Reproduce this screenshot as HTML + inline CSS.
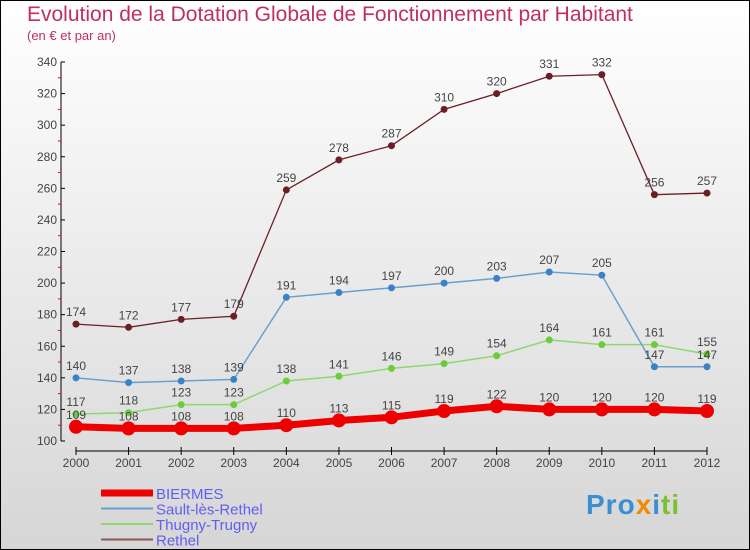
<!DOCTYPE html>
<html><head><meta charset="utf-8"><style>
body{margin:0}
#c{position:relative;width:748px;height:548px;border:1px solid #000;background:linear-gradient(#fff,#d6d6d6);font-family:"Liberation Sans",sans-serif;overflow:hidden}
.t{position:absolute;left:26px;top:2px;font-size:21px;color:#c0305a}
.s{position:absolute;left:26px;top:27px;font-size:13px;color:#c0305a}
</style></head><body>
<div id="c">
<div class="t">Evolution de la Dotation Globale de Fonctionnement par Habitant</div>
<div class="s">(en € et par an)</div>
<svg id="svg" width="748" height="548" style="position:absolute;left:0;top:0"></svg>
<div style="position:absolute;left:585px;top:488px;font-size:28px;font-weight:bold;letter-spacing:1px"><span style="color:#3a8fd0">Pro</span><span style="color:#f08a00">x</span><span style="color:#3a8fd0">i</span><span style="color:#7cc030">ti</span></div>
</div>
<script>
const years=["2000","2001","2002","2003","2004","2005","2006","2007","2008","2009","2010","2011","2012"];
const biermes=[109,108,108,108,110,113,115,119,122,120,120,120,119];
const sault=[140,137,138,139,191,194,197,200,203,207,205,147,147];
const thugny=[117,118,123,123,138,141,146,149,154,164,161,161,155];
const rethel=[174,172,177,179,259,278,287,310,320,331,332,256,257];
const yTicks=[100,120,140,160,180,200,220,240,260,280,300,320,340];
const series=[
 {name:"Rethel",data:rethel,color:"#6b1f25",w:1.3,r:3.5,fill:"#6b1f25"},
 {name:"Thugny-Trugny",data:thugny,color:"#8fd870",w:1.5,r:3.5,fill:"#6ccc3c"},
 {name:"Sault-lès-Rethel",data:sault,color:"#6aa0d0",w:1.5,r:3.5,fill:"#3a82c8"},
 {name:"BIERMES",data:biermes,color:"#ee0000",w:7,r:7,fill:"#ee0000"}];
const NS="http://www.w3.org/2000/svg",svg=document.getElementById('svg');
const x=i=>75+i*(631/12), y=v=>440-(v-100)*(379/240);
function el(t,a,p){const e=document.createElementNS(NS,t);for(const k in a)e.setAttribute(k,a[k]);(p||svg).appendChild(e);return e;}
let e=el('line',{x1:60,y1:61,x2:60,y2:440,stroke:'#000'});

e=el('line',{x1:75,y1:450,x2:706,y2:450,stroke:'#000'});

yTicks.forEach((v,i)=>{el('line',{x1:60,y1:y(v),x2:64,y2:y(v),stroke:'#000'});
 if(i<yTicks.length-1)el('line',{x1:57,y1:y(v+10),x2:60,y2:y(v+10),stroke:'#f00'});
 const t=el('text',{x:56,y:y(v)+4,'text-anchor':'end','font-size':12,fill:'#444'});t.textContent=v;
 });
years.forEach((yr,i)=>{el('line',{x1:x(i),y1:446,x2:x(i),y2:454,stroke:'#000'});
 const t=el('text',{x:x(i),y:466,'text-anchor':'middle','font-size':12,fill:'#444'});t.textContent=yr;
 });
series.forEach(s=>{const g=el('g',{});
 
 el('polyline',{points:s.data.map((v,i)=>x(i)+','+y(v)).join(' '),fill:'none',stroke:s.color,'stroke-width':s.w},g);
 s.data.forEach((v,i)=>{const c=el('circle',{cx:x(i),cy:y(v),r:s.r,fill:s.fill},g);
  
  const t=el('text',{x:x(i),y:y(v)-8,'text-anchor':'middle','font-size':12,fill:'#444'},g);t.textContent=v;
  });});
const leg=[["BIERMES","#ee0000",7],["Sault-lès-Rethel","#6aa0d0",2],["Thugny-Trugny","#8fd870",2],["Rethel","#8a5858",2]];
leg.forEach((l,i)=>{const yy=492+i*15.5;const g=el('g',{});
 
 el('line',{x1:100,y1:yy,x2:152,y2:yy,stroke:l[1],'stroke-width':l[2]},g);
 const t=el('text',{x:155,y:yy+6,'font-size':15,fill:'#6060f0'},g);t.textContent=l[0];});
</script>
</body></html>
